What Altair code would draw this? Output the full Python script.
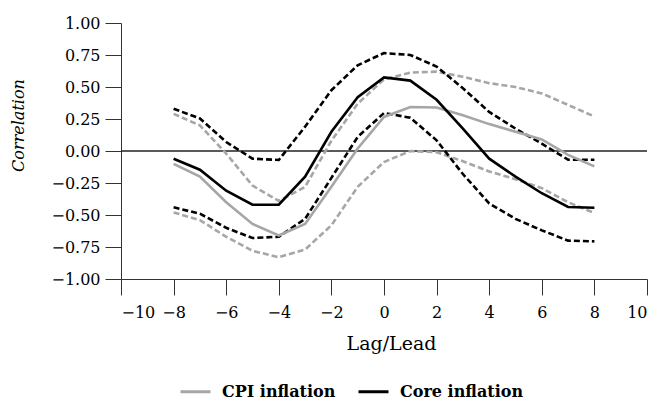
import altair as alt
import pandas as pd

lags = list(range(-8, 9))

cpi = [-0.10, -0.20, -0.40, -0.57, -0.66, -0.57, -0.28, 0.02, 0.266, 0.344, 0.34, 0.28, 0.21, 0.15, 0.09, -0.03, -0.12]
cpi_upper = [0.29, 0.20, -0.02, -0.27, -0.39, -0.28, 0.08, 0.37, 0.56, 0.613, 0.62, 0.58, 0.53, 0.50, 0.45, 0.36, 0.27]
cpi_lower = [-0.48, -0.54, -0.67, -0.78, -0.83, -0.77, -0.58, -0.28, -0.086, 0.0, -0.01, -0.08, -0.16, -0.22, -0.29, -0.40, -0.485]

core = [-0.06, -0.146, -0.31, -0.42, -0.42, -0.20, 0.15, 0.42, 0.575, 0.55, 0.40, 0.175, -0.06, -0.20, -0.33, -0.437, -0.443]
core_upper = [0.33, 0.254, 0.07, -0.06, -0.07, 0.19, 0.475, 0.67, 0.765, 0.75, 0.66, 0.49, 0.305, 0.175, 0.057, -0.068, -0.068]
core_lower = [-0.44, -0.49, -0.60, -0.68, -0.67, -0.53, -0.21, 0.11, 0.297, 0.26, 0.083, -0.18, -0.41, -0.53, -0.62, -0.70, -0.706]

series_names = ["CPI inflation", "Core inflation"]
series_colors = ["#a6a6a6", "#000000"]
x_ticks = list(range(-10, 11, 2))
y_ticks = [-1.0, -0.75, -0.5, -0.25, 0.0, 0.25, 0.5, 0.75, 1.0]

rows = []
for name, est, up, lo in [
    ("CPI inflation", cpi, cpi_upper, cpi_lower),
    ("Core inflation", core, core_upper, core_lower),
]:
    for kind, vals in [("estimate", est), ("upper", up), ("lower", lo)]:
        for lag, v in zip(lags, vals):
            rows.append({"lag": lag, "value": v, "series": name, "kind": kind})
df = pd.DataFrame(rows)

FONT = "DejaVu Serif"

x_axis = alt.Axis(
    values=x_ticks,
    title="Lag/Lead",
    titleX=270,
    titleY=55,
    titleBaseline="top",
    titleAlign="center",
    titleFontSize=19,
    titleFontWeight="normal",
    titleFont=FONT,
    labelFontSize=16,
    labelFont=FONT,
    labelPadding=9,
    labelOverlap=False,
    tickSize=16,
    grid=False,
)
y_axis = alt.Axis(
    values=y_ticks,
    format=".2f",
    title="Correlation",
    titleX=-98,
    titleY=102,
    titleAngle=270,
    titleBaseline="alphabetic",
    titleAlign="center",
    titleFontSize=16,
    titleFontStyle="italic",
    titleFontWeight="normal",
    titleFont=FONT,
    labelFontSize=16,
    labelFont=FONT,
    labelPadding=5,
    labelOverlap=False,
    tickSize=16,
    grid=False,
)
x_scale = alt.Scale(domain=[-10, 10], nice=False)
y_scale = alt.Scale(domain=[-1, 1], nice=False)
color_scale = alt.Scale(domain=series_names, range=series_colors)

zero_line = (
    alt.Chart(df)
    .transform_filter(alt.datum.kind == "estimate")
    .transform_aggregate(n="count()")
    .transform_calculate(zero="0")
    .mark_rule(color="#222222", strokeWidth=1.5)
    .encode(y=alt.Y("zero:Q", scale=y_scale, axis=y_axis))
)


def band_layer(name, color):
    return (
        alt.Chart(df)
        .transform_filter((alt.datum.kind != "estimate") & (alt.datum.series == name))
        .mark_line(strokeWidth=2.6, strokeDash=[6, 3], color=color)
        .encode(
            x=alt.X("lag:Q", scale=x_scale, axis=x_axis),
            y=alt.Y("value:Q", scale=y_scale, axis=y_axis),
            detail="kind:N",
            order="lag:Q",
        )
    )


bands_cpi = band_layer(series_names[0], series_colors[0])
bands_core = band_layer(series_names[1], series_colors[1])

est = (
    alt.Chart(df)
    .transform_filter(alt.datum.kind == "estimate")
    .mark_line(strokeWidth=2.6)
    .encode(
        x=alt.X("lag:Q", scale=x_scale, axis=x_axis),
        y=alt.Y("value:Q", scale=y_scale, axis=y_axis),
        color=alt.Color(
            "series:N",
            scale=color_scale,
            legend=alt.Legend(
                title=None,
                orient="none",
                direction="horizontal",
                legendX=58,
                legendY=352,
                symbolType="stroke",
                symbolSize=900,
                symbolStrokeWidth=3,
                labelFont=FONT,
                labelFontSize=16,
                labelFontWeight="bold",
                labelColor="#000000",
                labelOffset=10,
                columnPadding=16,
                padding=0,
            ),
        ),
        order="lag:Q",
    )
)

chart = (
    alt.layer(zero_line, bands_cpi, bands_core, est)
    .properties(
        width=526,
        height=256,
        autosize=alt.AutoSizeParams(type="none"),
        padding={"left": 113, "top": 15, "right": 4, "bottom": 120},
        background="white",
    )
    .configure_view(stroke=None)
    .configure_axis(domainColor="#333333", tickColor="#333333", labelColor="#000000", titleColor="#000000")
)

chart.save("out.html", embed_options={"renderer": "svg", "actions": False})
